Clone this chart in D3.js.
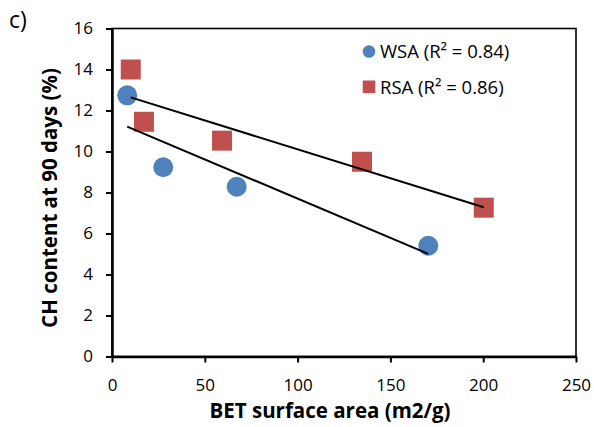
<!DOCTYPE html>
<html lang="en">
<head>
  <meta charset="utf-8">
  <title>CH content vs BET surface area</title>
  <script src="https://d3js.org/d3.v7.min.js"></script>
  <style>
  body { margin: 0; background: #fff; }
  text {
      font-family: "Open Sans", sans-serif;
      fill: #000;
  }
  </style>
</head>
<body>
  <script>
    // data
    var wsaX = [8.2, 27.6, 67.2, 170.4];
    var wsaY = [12.74, 9.23, 8.28, 5.4];
    var rsaX = [10.1, 17.2, 59.3, 134.7, 200.3];
    var rsaY = [14.0, 11.45, 10.53, 9.5, 7.26];
    var xTicks = [0, 50, 100, 150, 200, 250];
    var yTicks = [0, 2, 4, 6, 8, 10, 12, 14, 16];
    var seriesNames = ["WSA (R² = 0.84)", "RSA (R² = 0.86)"];
    var seriesColors = ["#4F81BD", "#C0504D"];

    var w = 594, h = 427;
    var plotLeft = 112, plotRight = 576, plotTop = 28.5, plotBottom = 356.5;

    var x = d3.scaleLinear().domain([0, 250]).range([plotLeft, plotRight]);
    var y = d3.scaleLinear().domain([0, 16]).range([plotBottom, plotTop]);

    var svg = d3.select("body").append("svg")
      .attr("width", w)
      .attr("height", h);

    // plot area border
    svg.append("rect")
      .attr("x", plotLeft).attr("y", plotTop)
      .attr("width", plotRight - plotLeft).attr("height", plotBottom - plotTop)
      .attr("fill", "none")
      .attr("stroke", "#000")
      .attr("stroke-width", 1.6);

    // x axis
    var xAxis = svg.append("g")
      .attr("transform", "translate(0," + plotBottom + ")")
      .call(d3.axisBottom(x).tickValues(xTicks).tickSize(6).tickPadding(16).tickSizeOuter(0));
    // y axis
    var yAxis = svg.append("g")
      .attr("transform", "translate(" + plotLeft + ",0)")
      .call(d3.axisLeft(y).tickValues(yTicks).tickSize(6).tickPadding(13).tickSizeOuter(0));

    [xAxis, yAxis].forEach(function(g) {
      g.select(".domain").attr("stroke", "#000").attr("stroke-width", 2.5);
      g.selectAll(".tick line").attr("stroke", "#000").attr("stroke-width", 2);
      g.selectAll(".tick text")
        .style("font-family", "'Open Sans', sans-serif")
        .style("font-size", "17px")
        .attr("fill", "#000");
    });

    // least squares trendline from the points
    function fit(xs, ys) {
      var mx = d3.mean(xs), my = d3.mean(ys);
      var sxy = d3.sum(xs, function(v, i) { return (v - mx) * (ys[i] - my); });
      var sxx = d3.sum(xs, function(v) { return (v - mx) * (v - mx); });
      var b = sxy / sxx;
      var a = my - b * mx;
      var x0 = d3.min(xs), x1 = d3.max(xs);
      return [[x0, a + b * x0], [x1, a + b * x1]];
    }

    var line = d3.line()
      .x(function(d) { return x(d[0]); })
      .y(function(d) { return y(d[1]); });

    // points
    svg.selectAll("circle.wsa")
      .data(wsaX)
      .enter()
      .append("circle")
      .attr("class", "wsa")
      .attr("cx", function(d) { return x(d); })
      .attr("cy", function(d, i) { return y(wsaY[i]); })
      .attr("r", 10)
      .attr("fill", seriesColors[0]);

    svg.selectAll("rect.rsa")
      .data(rsaX)
      .enter()
      .append("rect")
      .attr("class", "rsa")
      .attr("x", function(d) { return x(d) - 10; })
      .attr("y", function(d, i) { return y(rsaY[i]) - 10; })
      .attr("width", 20)
      .attr("height", 20)
      .attr("fill", seriesColors[1]);

    // trendlines drawn over the markers
    [fit(wsaX, wsaY), fit(rsaX, rsaY)].forEach(function(pts) {
      svg.append("path")
        .attr("d", line(pts))
        .attr("fill", "none")
        .attr("stroke", "#000")
        .attr("stroke-width", 2);
    });

    // legend
    svg.append("circle")
      .attr("cx", 369).attr("cy", 51.5)
      .attr("r", 6.3)
      .attr("fill", seriesColors[0]);
    svg.append("rect")
      .attr("x", 362.7).attr("y", 80.5)
      .attr("width", 12.6).attr("height", 12.6)
      .attr("fill", seriesColors[1]);
    svg.append("text")
      .attr("x", 380).attr("y", 58)
      .style("font-size", "18.5px")
      .text(seriesNames[0]);
    svg.append("text")
      .attr("x", 380).attr("y", 93.5)
      .style("font-size", "18.5px")
      .text(seriesNames[1]);

    // axis titles
    svg.append("text")
      .attr("x", 330)
      .attr("y", 418)
      .attr("text-anchor", "middle")
      .style("font-size", "20.5px")
      .style("font-weight", "bold")
      .text("BET surface area (m2/g)");

    svg.append("text")
      .attr("text-anchor", "middle")
      .style("font-size", "20.5px")
      .style("font-weight", "bold")
      .attr("transform", "translate(57,198) rotate(-90)")
      .text("CH content at 90 days (%)");

    // panel label
    svg.append("text")
      .attr("x", 9).attr("y", 28)
      .style("font-size", "23px")
      .text("c)");
  </script>
</body>
</html>
